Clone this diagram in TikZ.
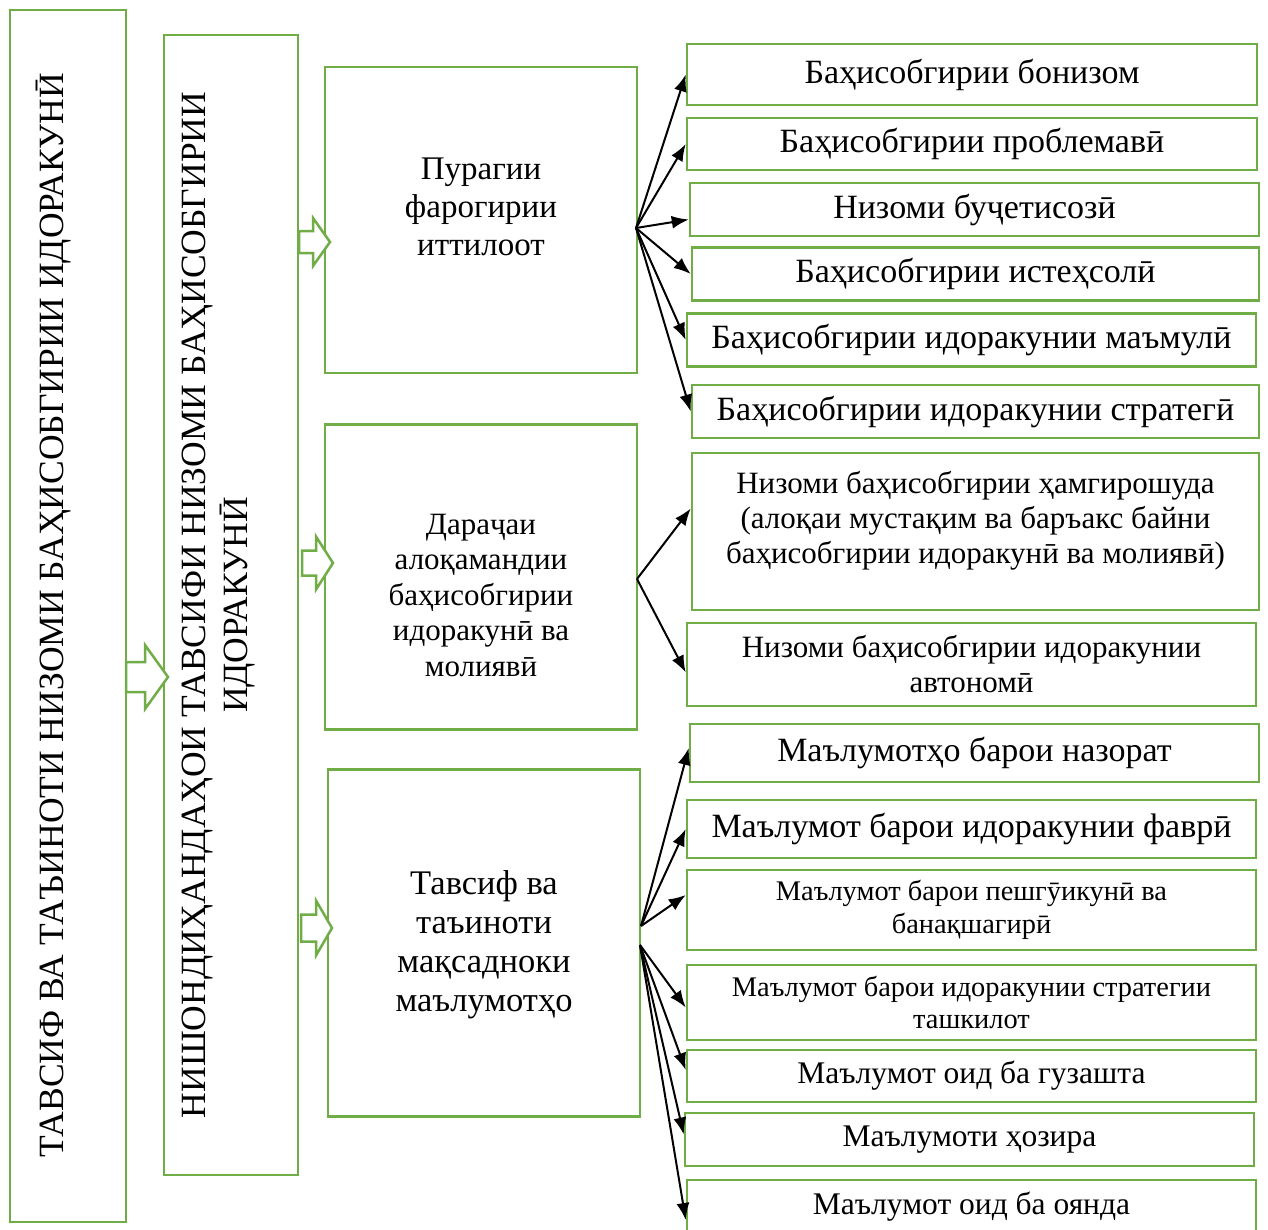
\documentclass[tikz,border=0pt]{standalone}
\usepackage{fontspec}
\setmainfont{Liberation Serif}
\usepackage{tikz}
\usetikzlibrary{calc,arrows.meta}
\definecolor{mygreen}{RGB}{112,173,71}
\tikzset{>={Latex[length=17pt,width=13pt]}}
\tikzset{greenbox/.style={draw=mygreen, line width=2.5pt, inner sep=0pt, align=center},
  rbox/.style={greenbox, minimum height=53pt, font=\fontsize{34}{35}\selectfont},
  fanarrow/.style={->, line width=2pt},
  blockarrow/.style={draw=mygreen, line width=2.5pt, fill=white, line join=miter}}
% hollow block arrow: left end, centre, shaft length, head length, shaft half, head half
\newcommand{\blockarr}[6]{%
  \draw[blockarrow] (#1,#2-#5) -- (#1+#3,#2-#5) -- (#1+#3,#2-#6) -- (#1+#3+#4,#2)
    -- (#1+#3,#2+#6) -- (#1+#3,#2+#5) -- (#1,#2+#5) -- cycle;}

\begin{document}
\begin{tikzpicture}[x=1pt,y=-1pt]
\useasboundingbox (0,0) rectangle (1268,1229);

% two vertical boxes
\node[greenbox, minimum width=116pt, minimum height=1212pt] (tavsif) at (68,616) {};
\node[rotate=90, font=\fontsize{35.5}{42}\selectfont] (tavsiftext) at (54,615)
  {ТАВСИФ ВА ТАЪИНОТИ НИЗОМИ БАҲИСОБГИРИИ ИДОРАКУНӢ};
\node[greenbox, minimum width=134pt, minimum height=1140pt] (nishon) at (231,605) {};
\node[rotate=90, align=center, font=\fontsize{35.5}{42}\selectfont] (nishontext) at (219,605)
  {НИШОНДИҲАНДАҲОИ ТАВСИФИ НИЗОМИ БАҲИСОБГИРИИ\\ИДОРАКУНӢ};

% middle boxes
\node[greenbox, minimum width=312pt, minimum height=306pt] (pur) at (481,220) {};
\node[align=center, font=\fontsize{33}{38}\selectfont] (purtext) at (481,207)
  {Пурагии\\фарогирии\\иттилоот};
\node[greenbox, minimum width=312pt, minimum height=305pt] (dar) at (481,577) {};
\node[align=center, font=\fontsize{31}{35.5}\selectfont] (dartext) at (481,595)
  {Дараҷаи\\алоқамандии\\баҳисобгирии\\идоракунӣ ва\\молиявӣ};
\node[greenbox, minimum width=312pt, minimum height=347pt] (tav) at (484,943) {};
\node[align=center, font=\fontsize{34.5}{39}\selectfont] (tavtext) at (484,945)
  {Тавсиф ва\\таъиноти\\мақсадноки\\маълумотҳо};

% block arrows
\blockarr{126}{677}{19}{23}{15}{32}
\blockarr{299}{242}{14}{17}{11}{24}
\blockarr{302}{563}{14}{17}{12.5}{26.5}
\blockarr{301}{928}{15}{16}{13.5}{27.5}

% right boxes
\node[rbox, minimum width=570pt, minimum height=61pt] (r1) at (972,74.5) {Баҳисобгирии бонизом};
\node[rbox, minimum width=570pt, minimum height=52pt] (r2) at (972,144) {Баҳисобгирии проблемавӣ};
\node[rbox, minimum width=569pt] (r3) at (974.5,209.5) {Низоми буҷетисозӣ};
\node[rbox, minimum width=567pt] (r4) at (975.5,274) {Баҳисобгирии истеҳсолӣ};
\node[rbox, minimum width=569pt] (r5) at (971.5,340) {Баҳисобгирии идоракунии маъмулӣ};
\node[rbox, minimum width=567pt] (r6) at (975.5,411.5) {Баҳисобгирии идоракунии стратегӣ};
\node[rbox, minimum width=567pt, minimum height=157pt, font=\fontsize{31}{35}\selectfont] (r7) at (975.5,531.5)
  {Низоми баҳисобгирии ҳамгирошуда\\(алоқаи мустақим ва баръакс байни\\баҳисобгирии идоракунӣ ва молиявӣ)\rule[-28pt]{0pt}{28pt}};
\node[rbox, minimum width=569pt, minimum height=83pt, font=\fontsize{31}{35}\selectfont] (r8) at (971.5,664.5)
  {Низоми баҳисобгирии идоракунии\\автономӣ};
\node[rbox, minimum width=569pt, minimum height=58pt] (r9) at (974.5,753) {Маълумотҳо барои назорат};
\node[rbox, minimum width=569pt, minimum height=58pt] (r10) at (971.5,829) {Маълумот барои идоракунии фаврӣ};
\node[rbox, minimum width=569pt, minimum height=80pt, font=\fontsize{28.4}{33}\selectfont] (r11) at (971.5,910)
  {Маълумот барои пешгӯикунӣ ва\\банақшагирӣ};
\node[rbox, minimum width=569pt, minimum height=75pt, font=\fontsize{28.4}{32}\selectfont] (r12) at (971.5,1002.5)
  {Маълумот барои идоракунии стратегии\\ташкилот};
\node[rbox, minimum width=569pt, minimum height=52pt, font=\fontsize{31.5}{35}\selectfont] (r13) at (971.5,1076) {Маълумот оид ба гузашта};
\node[rbox, minimum width=569pt, font=\fontsize{31.5}{35}\selectfont] (r14) at (969.5,1139.5) {Маълумоти ҳозира};
\node[rbox, minimum width=569pt, minimum height=54pt, font=\fontsize{31.5}{35}\selectfont] (r15) at (971.5,1207) {Маълумот оид ба оянда};

% fan points
\coordinate (fpur) at (636,228);
\coordinate (fdar) at (637,579);
\coordinate (ftav) at (641,926);
\coordinate (ftavb) at (640,945);

\draw[fanarrow] (fpur) -- (r1.west);
\draw[fanarrow] (fpur) -- (r2.west);
\draw[fanarrow] (fpur) -- ([yshift=-10pt]r3.west);
\draw[fanarrow] (fpur) -- (r4.west);
\draw[fanarrow] (fpur) -- (r5.west);
\draw[fanarrow] (fpur) -- (r6.west);

\draw[fanarrow] (fdar) -- ([yshift=23pt]r7.west);
\draw[fanarrow] (fdar) -- ([yshift=-8pt]r8.west);

\draw[fanarrow] (ftav) -- ([yshift=5pt]r9.west);
\draw[fanarrow] (ftav) -- (r10.west);
\draw[fanarrow] (ftav) -- ([yshift=15pt]r11.west);
\draw[fanarrow] (ftavb) -- ([yshift=-5pt]r12.west);
\draw[fanarrow] (ftavb) -- ([yshift=6pt]r13.west);
\draw[fanarrow] (ftavb) -- ([yshift=5pt]r14.west);
\draw[fanarrow] (ftavb) -- ([yshift=-13pt]r15.west);
\end{tikzpicture}
\end{document}
